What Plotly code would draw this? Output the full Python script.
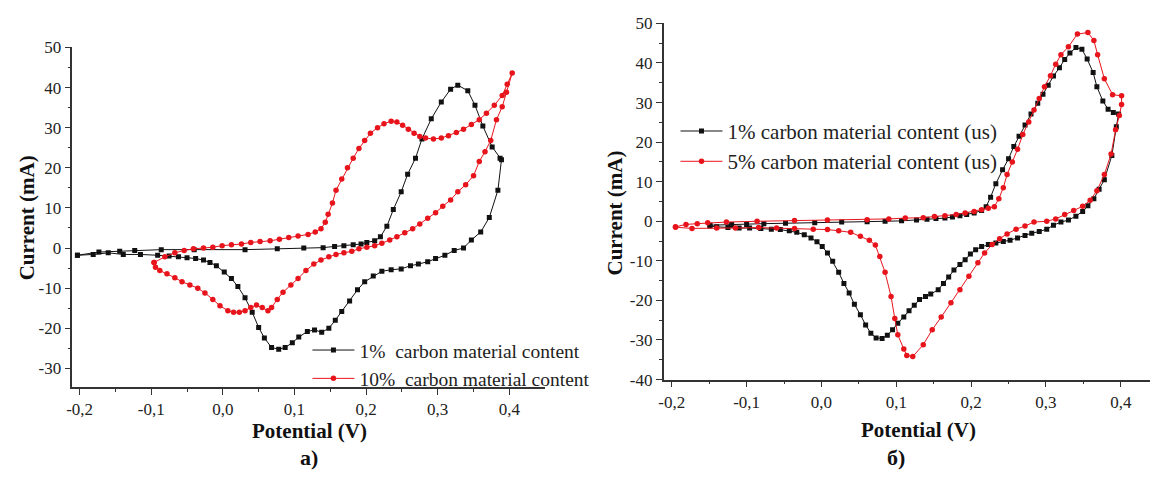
import plotly.graph_objects as go

# ---------------- data ----------------
# Panel a) : 1% carbon material content
a1_E = [-0.203, -0.173, -0.144, -0.123, -0.086, -0.040, 0.031, 0.076, 0.113, 0.140, 0.156, 0.169, 0.182, 0.193,
        0.201, 0.212, 0.220, 0.229, 0.238, 0.249, 0.258, 0.269, 0.278, 0.291, 0.305, 0.318, 0.328,
        0.342, 0.352, 0.363, 0.376, 0.387, 0.389, 0.384, 0.372, 0.360, 0.347, 0.336, 0.323, 0.310,
        0.297, 0.286, 0.273, 0.262, 0.249, 0.235, 0.222, 0.210, 0.198, 0.188, 0.177, 0.166, 0.157,
        0.148, 0.138, 0.128, 0.118, 0.106, 0.097, 0.087, 0.078, 0.068, 0.058, 0.050, 0.041, 0.031,
        0.021, 0.012, 0.002, -0.009, -0.018, -0.027, -0.038, -0.050, -0.062, -0.075, -0.091, -0.115,
        -0.139, -0.160, -0.181, -0.203]
a1_I = [-1.8, -1.0, -0.8, -0.6, -0.4, -0.4, -0.4, -0.2, 0.0, 0.1, 0.4, 0.6, 0.8, 1.0,
        1.4, 1.8, 2.8, 5.4, 9.6, 14.0, 18.4, 22.4, 27.2, 32.2, 36.4, 39.6, 40.6,
        39.2, 35.6, 30.4, 25.2, 22.4, 22.0, 14.4, 7.6, 4.0, 2.0, 0.0, -0.6, -1.8,
        -2.6, -3.4, -4.0, -4.4, -5.2, -5.4, -5.8, -7.0, -8.4, -10.4, -13.2, -15.8, -18.0,
        -20.0, -21.0, -20.4, -20.8, -22.2, -23.6, -24.8, -25.2, -24.8, -22.4, -19.8, -16.0, -12.4,
        -9.6, -7.6, -6.0, -4.4, -3.6, -3.0, -2.6, -2.4, -2.2, -2.0, -1.8, -1.6,
        -1.6, -1.2, -1.6, -1.8]

# Panel a) : 10% carbon material content
a10_E = [-0.096, -0.081, -0.067, -0.054, -0.041, -0.027, -0.014, -0.001, 0.012, 0.026, 0.039, 0.052, 0.066,
         0.079, 0.092, 0.105, 0.119, 0.129, 0.137, 0.143, 0.147, 0.153, 0.158, 0.166, 0.174, 0.182,
         0.190, 0.198, 0.206, 0.216, 0.225, 0.235, 0.243, 0.251, 0.259, 0.267, 0.275, 0.283, 0.294,
         0.305, 0.315, 0.326, 0.336, 0.347, 0.358, 0.368, 0.379, 0.390, 0.397, 0.404,
         0.396, 0.390, 0.382, 0.374, 0.366, 0.358, 0.350, 0.339, 0.328, 0.318, 0.307, 0.297, 0.286,
         0.275, 0.265, 0.254, 0.243, 0.233, 0.222, 0.212, 0.201, 0.190, 0.180, 0.169, 0.158, 0.148,
         0.137, 0.127, 0.116, 0.105, 0.095, 0.084, 0.076, 0.068, 0.063, 0.055, 0.047, 0.039, 0.031,
         0.023, 0.015, 0.007, -0.004, -0.014, -0.025, -0.035, -0.046, -0.057, -0.067, -0.078, -0.088,
         -0.094, -0.096]
a10_I = [-3.6, -2.2, -1.2, -0.6, -0.2, 0.0, 0.2, 0.6, 0.8, 1.0, 1.4, 1.6, 1.8,
         2.2, 2.6, 3.0, 3.4, 4.0, 4.8, 6.4, 8.4, 11.2, 14.4, 17.2, 20.0, 22.4,
         24.8, 26.8, 28.6, 30.0, 31.0, 31.6, 31.4, 30.6, 29.6, 28.6, 27.8, 27.4, 27.2,
         27.4, 28.0, 28.8, 29.6, 30.8, 32.0, 33.6, 35.6, 38.0, 40.8, 43.6,
         38.8, 35.2, 32.0, 26.8, 24.0, 21.6, 18.0, 15.8, 14.0, 12.0, 10.4, 8.8, 7.4,
         6.0, 4.8, 3.8, 2.8, 2.0, 1.2, 0.6, 0.2, -0.2, -0.8, -1.2, -1.6, -2.2,
         -3.0, -4.0, -5.6, -7.6, -9.2, -11.0, -12.8, -14.8, -15.6, -14.8, -14.2, -14.8, -15.6,
         -16.0, -16.0, -15.6, -14.4, -12.8, -11.2, -10.0, -9.2, -8.4, -7.4, -6.4, -5.6,
         -4.8, -3.6]

# Panel б) : 1% carbon material content (us)
b1_E = [-0.149, -0.120, -0.100, -0.077, -0.048, -0.009, 0.027, 0.061, 0.085, 0.107, 0.127, 0.141, 0.153,
        0.165, 0.175, 0.185, 0.194, 0.204, 0.214, 0.220, 0.226, 0.233, 0.242, 0.250, 0.257, 0.264,
        0.272, 0.280, 0.289, 0.296, 0.303, 0.310, 0.318, 0.325, 0.332, 0.340, 0.348, 0.355, 0.363,
        0.368, 0.376, 0.383, 0.390, 0.397, 0.394, 0.388, 0.378, 0.371, 0.364, 0.356, 0.349, 0.340,
        0.330, 0.320, 0.310, 0.301, 0.291, 0.281, 0.272, 0.262, 0.252, 0.243, 0.233, 0.223, 0.214,
        0.206, 0.199, 0.192, 0.185, 0.177, 0.170, 0.163, 0.156, 0.146, 0.139, 0.131, 0.124, 0.117,
        0.110, 0.102, 0.095, 0.088, 0.081, 0.073, 0.066, 0.059, 0.052, 0.044, 0.037, 0.030, 0.023,
        0.015, 0.008, 0.001, -0.006, -0.014, -0.023, -0.033, -0.043, -0.055, -0.067, -0.081, -0.096,
        -0.110, -0.125, -0.140, -0.149]
b1_I = [-1.0, -0.8, -0.8, -0.6, -0.5, -0.4, -0.2, -0.1, 0.0, 0.1, 0.3, 0.5, 0.7,
        0.8, 1.1, 1.4, 1.7, 2.1, 2.7, 3.7, 6.1, 9.5, 13.0, 15.8, 18.9, 21.5,
        24.3, 27.1, 29.8, 32.1, 34.4, 36.7, 38.8, 40.9, 42.5, 43.9, 43.5, 41.0, 37.6,
        34.0, 30.4, 28.3, 27.5, 27.1, 23.9, 16.6, 10.5, 8.1, 5.7, 3.9, 2.5, 1.3,
        0.3, -0.2, -1.0, -2.0, -2.6, -3.0, -3.6, -4.2, -4.8, -5.1, -5.5, -5.9, -6.4,
        -7.2, -8.3, -9.7, -10.9, -12.3, -14.1, -15.7, -17.3, -18.4, -19.0, -19.8, -21.2, -22.6,
        -24.2, -25.8, -27.4, -28.8, -29.6, -29.5, -28.3, -26.2, -23.6, -21.0, -18.1, -15.7, -12.9,
        -10.1, -8.0, -6.4, -5.2, -4.2, -3.4, -2.8, -2.4, -2.1, -2.0, -1.8, -1.7,
        -1.7, -1.6, -1.4, -1.2]

# Panel б) : 5% carbon material content (us)
b5_E = [-0.195, -0.181, -0.166, -0.152, -0.127, -0.086, -0.036, 0.008, 0.061, 0.090, 0.112, 0.136, 0.151,
        0.165, 0.180, 0.192, 0.204, 0.214, 0.223, 0.231, 0.237, 0.243, 0.248, 0.255, 0.262, 0.269,
        0.277, 0.284, 0.291, 0.298, 0.306, 0.313, 0.320, 0.330, 0.342, 0.356, 0.364, 0.369, 0.378,
        0.389, 0.401, 0.401, 0.398, 0.393, 0.387, 0.378, 0.368, 0.359, 0.349, 0.337, 0.325, 0.313,
        0.301, 0.284, 0.272, 0.260, 0.248, 0.238, 0.228, 0.218, 0.209, 0.197, 0.185, 0.173, 0.160,
        0.148, 0.136, 0.122, 0.114, 0.110, 0.102, 0.098, 0.093, 0.085, 0.078, 0.072, 0.064, 0.052,
        0.039, 0.023, 0.008, -0.011, -0.036, -0.060, -0.084, -0.115, -0.140, -0.173, -0.195]
b5_I = [-1.4, -0.8, -0.6, -0.4, -0.2, 0.0, 0.2, 0.3, 0.4, 0.6, 0.8, 0.9, 1.2,
        1.4, 1.7, 2.1, 2.5, 2.9, 3.3, 3.7, 5.7, 8.5, 11.8, 15.0, 18.2, 21.9,
        25.1, 28.1, 31.0, 34.0, 36.8, 39.7, 42.1, 44.1, 47.3, 47.7, 45.7, 42.1, 36.0,
        32.0, 31.7, 29.5, 26.7, 23.1, 17.0, 11.8, 7.7, 5.3, 3.8, 2.7, 1.7, 0.6,
        0.0, -0.2, -1.2, -2.0, -3.2, -4.4, -5.9, -8.0, -10.5, -13.9, -17.3, -20.6, -24.2,
        -27.4, -31.2, -34.2, -33.9, -32.3, -28.7, -24.6, -19.0, -12.9, -8.9, -6.0, -4.8, -3.8,
        -2.8, -2.4, -2.1, -2.0, -1.8, -1.7, -1.6, -1.7, -1.7, -1.8, -1.5]

x_tickvals = [-0.2, -0.1, 0.0, 0.1, 0.2, 0.3, 0.4]
x_ticktext = ["-0,2", "-0,1", "0,0", "0,1", "0,2", "0,3", "0,4"]
ya_tickvals = [50, 40, 30, 20, 10, 0, -10, -20, -30]
yb_tickvals = [50, 40, 30, 20, 10, 0, -10, -20, -30, -40]

# ---------------- figure ----------------
W, H = 1152, 484
SERIF = "Liberation Serif"

def px_x(p):
    return p / W

def px_y(p):
    return 1 - p / H

fig = go.Figure()

fig.add_trace(go.Scatter(x=a1_E, y=a1_I, mode="lines+markers", name="1%  carbon material content",
                         line=dict(color="#111111", width=1), marker=dict(symbol="square", size=5, color="#111111"),
                         xaxis="x", yaxis="y", legend="legend"))
fig.add_trace(go.Scatter(x=a10_E, y=a10_I, mode="lines+markers", name="10%  carbon material content",
                         line=dict(color="#e8141c", width=1), marker=dict(symbol="circle", size=5.5, color="#e8141c"),
                         xaxis="x", yaxis="y", legend="legend"))
fig.add_trace(go.Scatter(x=b1_E, y=b1_I, mode="lines+markers", name="1% carbon material content (us)",
                         line=dict(color="#111111", width=1), marker=dict(symbol="square", size=5, color="#111111"),
                         xaxis="x2", yaxis="y2", legend="legend2"))
fig.add_trace(go.Scatter(x=b5_E, y=b5_I, mode="lines+markers", name="5% carbon material content (us)",
                         line=dict(color="#e8141c", width=1), marker=dict(symbol="circle", size=5.5, color="#e8141c"),
                         xaxis="x2", yaxis="y2", legend="legend2"))

axis_common = dict(showline=True, linecolor="#333333", linewidth=1.5, ticks="outside", ticklen=6,
                   tickwidth=1.2, tickcolor="#333333", showgrid=False, zeroline=False,
                   tickfont=dict(family=SERIF, size=17, color="#222222"),
                   minor=dict(ticks="outside", ticklen=3, tickwidth=1, tickcolor="#333333"))

fig.update_layout(
    width=W, height=H, margin=dict(l=0, r=0, t=0, b=0),
    paper_bgcolor="white", plot_bgcolor="white",
    font=dict(family=SERIF),
    xaxis=dict(domain=[px_x(66.7), px_x(541.7)], range=[-0.2101, 0.4496], anchor="y",
               tickmode="array", tickvals=x_tickvals, ticktext=x_ticktext,
               **{**axis_common, "minor": dict(axis_common["minor"], dtick=0.05, tick0=-0.2)}),
    yaxis=dict(domain=[px_y(393.3), px_y(40)], range=[-34.6, 50], anchor="x",
               tickmode="array", tickvals=ya_tickvals, ticktext=[str(v) for v in ya_tickvals],
               **{**axis_common, "minor": dict(axis_common["minor"], dtick=5, tick0=0)}),
    xaxis2=dict(domain=[px_x(661), px_x(1150)], range=[-0.211, 0.439], anchor="y2",
                tickmode="array", tickvals=x_tickvals, ticktext=x_ticktext,
                **{**axis_common, "minor": dict(axis_common["minor"], dtick=0.05, tick0=-0.2)}),
    yaxis2=dict(domain=[px_y(385.7), px_y(15)], range=[-40, 50], anchor="x2",
                tickmode="array", tickvals=yb_tickvals, ticktext=[str(v) for v in yb_tickvals],
                **{**axis_common, "minor": dict(axis_common["minor"], dtick=5, tick0=0)}),
    legend=dict(x=px_x(303), y=px_y(335), xanchor="left", yanchor="top", bgcolor="rgba(0,0,0,0)",
                font=dict(family=SERIF, size=19.5, color="#222222"), itemwidth=42, tracegroupgap=0),
    legend2=dict(x=px_x(673), y=px_y(106), xanchor="left", yanchor="top", bgcolor="rgba(0,0,0,0)",
                 font=dict(family=SERIF, size=21, color="#222222"), itemwidth=42, tracegroupgap=0),
)

title_font = dict(family=SERIF, size=21, color="#111111")
ann = [
    dict(text="<b>Current (mA)</b>", x=px_x(22), y=px_y(217), textangle=-90, font=title_font),
    dict(text="<b>Potential (V)</b>", x=px_x(305), y=px_y(439), font=title_font),
    dict(text="<b>а)</b>", x=px_x(305), y=px_y(467), font=dict(family=SERIF, size=22, color="#111111")),
    dict(text="<b>Current (mA)</b>", x=px_x(612), y=px_y(212), textangle=-90, font=title_font),
    dict(text="<b>Potential (V)</b>", x=px_x(917), y=px_y(438), font=title_font),
    dict(text="<b>б)</b>", x=px_x(895), y=px_y(467), font=dict(family=SERIF, size=22, color="#111111")),
]
for a in ann:
    a.update(xref="paper", yref="paper", showarrow=False, xanchor="center", yanchor="middle")
fig.update_layout(annotations=ann)

fig.write_html("out.html")
